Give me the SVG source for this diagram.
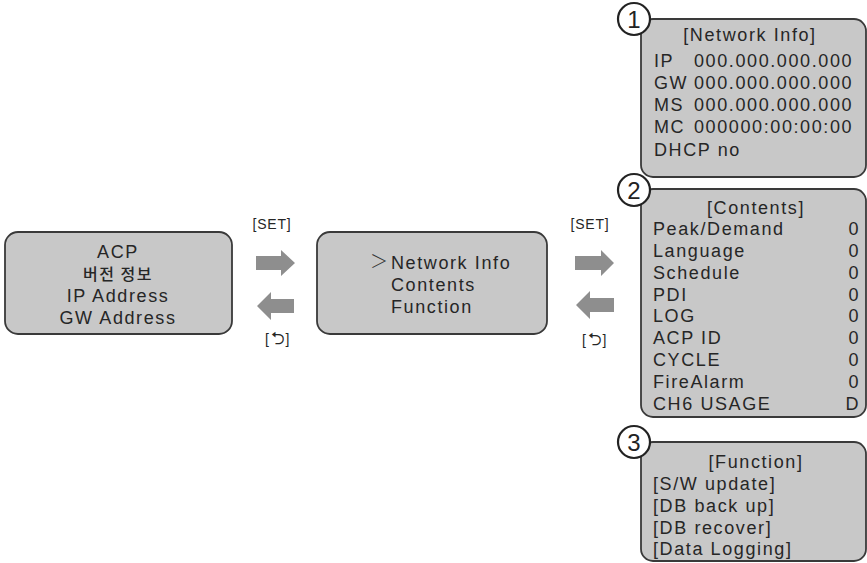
<svg xmlns="http://www.w3.org/2000/svg" width="867" height="563" viewBox="0 0 867 563">
<style>
.box{fill:#c8c8c8;stroke:#3a3a3a;stroke-width:1.8}
.t{font-family:"Liberation Sans",Arial,sans-serif;font-size:18px;fill:#262626;letter-spacing:1.6px}
.k{font-family:"Noto Sans CJK KR",sans-serif;font-size:16px;fill:#262626;letter-spacing:1.5px;font-weight:500}
.s{font-family:"Liberation Sans",Arial,sans-serif;font-size:14px;fill:#262626;letter-spacing:0.8px}
.m{text-anchor:middle}
.e{text-anchor:end}
.arr{fill:#8e8e8e}
.circ{fill:#fff;stroke:#222;stroke-width:2.2}
.num{font-family:"Liberation Sans",Arial,sans-serif;font-size:24px;fill:#222;text-anchor:middle}
</style>
<rect width="867" height="563" fill="#fff"/>
<g id="node-acp">
<rect class="box" x="5" y="232" width="227" height="102" rx="13"/>
<text class="t m" x="118" y="257.5">ACP</text>
<text class="k m" x="118" y="280">버전 정보</text>
<text class="t m" x="118" y="301.5">IP Address</text>
<text class="t m" x="118" y="323.5">GW Address</text>
</g>
<g id="node-menu">
<rect class="box" x="317" y="232" width="230" height="102" rx="13"/>
<text x="370" y="268" style="font-family:'Noto Sans CJK KR',sans-serif;font-size:18px;font-weight:300;fill:#333">＞</text>
<text class="t" x="391" y="268.5">Network Info</text>
<text class="t" x="391" y="290.5">Contents</text>
<text class="t" x="391" y="312.5">Function</text>
</g>
<g id="node-network">
<rect class="box" x="641" y="19" width="225" height="158" rx="12"/>
<circle class="circ" cx="634" cy="19" r="16"/>
<text class="num" x="634" y="28">1</text>
<text class="t m" x="750" y="41">[Network Info]</text>
<text class="t" x="654" y="66.5">IP<tspan x="694">000.000.000.000</tspan></text>
<text class="t" x="654" y="88.5">GW<tspan x="694">000.000.000.000</tspan></text>
<text class="t" x="654" y="110.5">MS<tspan x="694">000.000.000.000</tspan></text>
<text class="t" x="654" y="132.5">MC<tspan x="694">000000:00:00:00</tspan></text>
<text class="t" x="654" y="155.5">DHCP no</text>
</g>
<g id="node-contents">
<rect class="box" x="641" y="189" width="225" height="228" rx="12"/>
<circle class="circ" cx="634" cy="190" r="16"/>
<text class="num" x="634" y="199">2</text>
<text class="t m" x="756" y="213.5">[Contents]</text>
<text class="t" x="653" y="234.5">Peak/Demand</text>
<text class="t" x="653" y="256.5">Language</text>
<text class="t" x="653" y="278.5">Schedule</text>
<text class="t" x="653" y="300.5">PDI</text>
<text class="t" x="653" y="322">LOG</text>
<text class="t" x="653" y="344">ACP ID</text>
<text class="t" x="653" y="366">CYCLE</text>
<text class="t" x="653" y="388">FireAlarm</text>
<text class="t" x="653" y="410">CH6 USAGE</text>
<text class="t e" x="860" y="234.5">0</text>
<text class="t e" x="860" y="256.5">0</text>
<text class="t e" x="860" y="278.5">0</text>
<text class="t e" x="860" y="300.5">0</text>
<text class="t e" x="860" y="322">0</text>
<text class="t e" x="860" y="344">0</text>
<text class="t e" x="860" y="366">0</text>
<text class="t e" x="860" y="388">0</text>
<text class="t e" x="860" y="410">D</text>
</g>
<g id="node-function">
<rect class="box" x="641" y="442" width="225" height="119" rx="12"/>
<circle class="circ" cx="634" cy="442" r="16"/>
<text class="num" x="634" y="451">3</text>
<text class="t m" x="756" y="467.5">[Function]</text>
<text class="t" x="653" y="489.5">[S/W update]</text>
<text class="t" x="653" y="511.5">[DB back up]</text>
<text class="t" x="653" y="533.5">[DB recover]</text>
<text class="t" x="653" y="555">[Data Logging]</text>
</g>
<g id="connectors">
<polygon class="arr" points="256,256 281,256 281,250 295,263 281,276 281,270 256,270"/>
<polygon class="arr" points="294,299 271,299 271,292 257,306 271,320 271,313 294,313"/>
<polygon class="arr" points="575,256 601,256 601,250 614,263 601,276 601,270 575,270"/>
<polygon class="arr" points="614,298 590,298 590,291 576,305 590,319 590,312 614,312"/>
<text class="s m" x="272" y="229">[SET]</text>
<text class="s m" x="590" y="229">[SET]</text>
<text class="s" x="265" y="344">[<tspan dx="1" style="font-size:17px">⮌</tspan>]</text>
<text class="s" x="582" y="345">[<tspan dx="1" style="font-size:17px">⮌</tspan>]</text>
</g>
</svg>
